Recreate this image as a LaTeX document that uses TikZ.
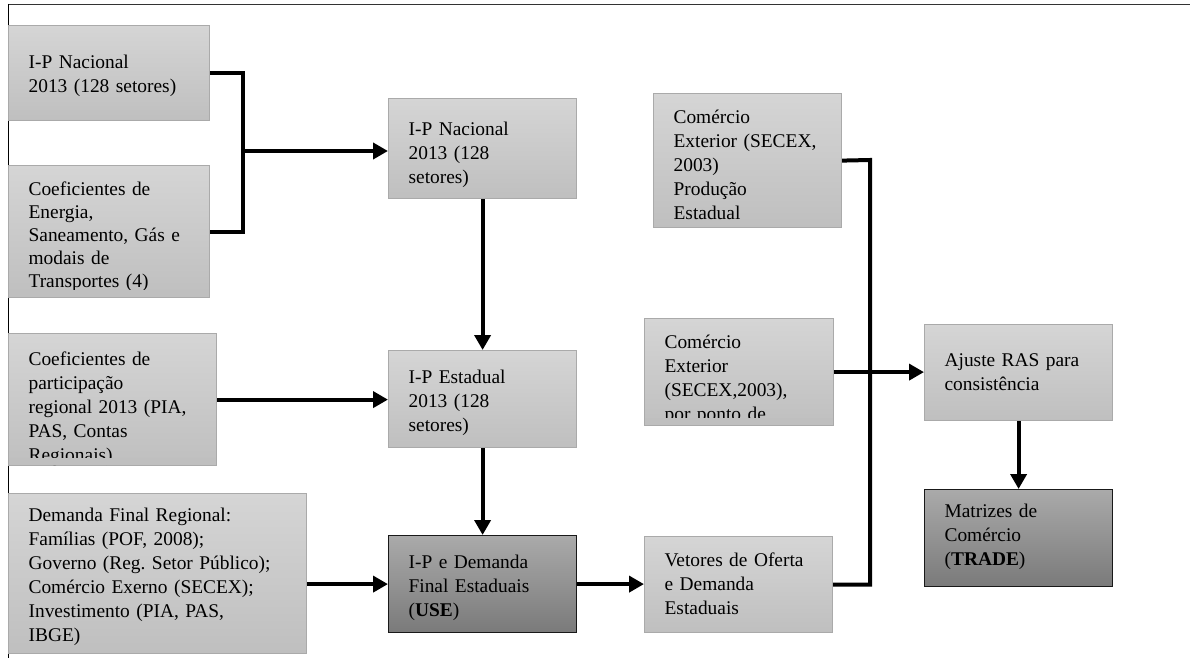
\documentclass[tikz,border=0pt]{standalone}
\usepackage{fontspec}
\setmainfont{Liberation Serif}
\usetikzlibrary{arrows.meta}
\definecolor{boxtop}{RGB}{213,213,213}
\definecolor{boxbot}{RGB}{191,191,191}
\definecolor{boxedge}{RGB}{170,170,170}
\definecolor{darktop}{RGB}{170,170,170}
\definecolor{darkbot}{RGB}{122,122,122}
\definecolor{darkedge}{RGB}{25,25,25}
\tikzset{
  dims/.style args={#1/#2/#3}{text width=#1, text height=#2, text depth=#3},
  box/.style={anchor=north west, inner xsep=10pt, inner ysep=0pt, align=left,
    font=\fontsize{9.7}{12}\selectfont\frenchspacing, line width=0.6pt},
  light/.style={box, draw=boxedge, top color=boxtop, bottom color=boxbot},
  dark/.style={box, draw=darkedge, top color=darktop, bottom color=darkbot},
  link/.style={line width=2pt},
  arr/.style={link, -{Triangle[length=7.5pt,width=8pt]}},
}
\begin{document}
\begin{tikzpicture}[x=0.5pt, y=-0.5pt]
  \useasboundingbox (0,0) rectangle (1190,658);
  % page frame
  \draw[line width=0.7pt, black!80] (8,4.5) -- (1190,4.5);
  \draw[line width=0.5pt] (8,4) -- (8,658);

  % inputs
  \node[light, dims=80.5pt/21.5pt/26pt] (natl) at (8,25) {I-P Nacional\\2013 (128 setores)};
  \node[light, dims=80.5pt/15pt/51pt, font=\fontsize{9.7}{11.5}\selectfont] (coef) at (8,165) {Coeficientes de\\Energia,\\Saneamento, Gás e\\modais de\\Transportes (4)};
  \node[light, dims=84pt/16pt/50pt] (part) at (8,333) {Coeficientes de\\participação\\regional 2013 (PIA,\\PAS, Contas\\Regionais)};
  \node[light, dims=129pt/14pt/66pt] (dem) at (8,493) {Demanda Final Regional:\\Famílias (POF, 2008);\\Governo (Reg. Setor Público);\\Comércio Exerno (SECEX);\\Investimento (PIA, PAS,\\IBGE)};

  % middle column
  \node[light, dims=74pt/18.5pt/31.5pt] (natl2) at (388,98) {I-P Nacional\\2013 (128\\setores)};
  \node[light, dims=74pt/16.5pt/32pt] (est) at (388,350) {I-P Estadual\\2013 (128\\setores)};
  \node[dark, dims=74pt/16.5pt/32pt] (use) at (388,535) {I-P e Demanda\\Final Estaduais\\(\textbf{USE})};

  % trade column
  \node[light, dims=74pt/15pt/33pt] (vet) at (644,536) {Vetores de Oferta\\e Demanda\\Estaduais};
  \node[light, dims=74pt/15pt/52pt] (com1) at (653,93) {Comércio\\Exterior (SECEX,\\2003)\\Produção\\Estadual};
  \node[light, dims=74.5pt/15pt/38.5pt] (com2) at (644,318) {Comércio\\Exterior\\(SECEX,2003),\\por ponto de};
  \node[light, dims=74pt/21pt/27pt] (ras) at (924,324) {Ajuste RAS para\\consistência};
  \node[dark, dims=74pt/14pt/34.5pt] (mat) at (924,489) {Matrizes de\\Comércio\\(\textbf{TRADE})};

  % text that runs past the box is cut off
  \foreach \b in {coef, part, com2}
    \fill[boxbot] ([shift={(0.4pt,0.4pt)}]\b.south west) rectangle ([shift={(-0.4pt,4pt)}]\b.south east);

  % connectors
  \coordinate (j1) at (243,151);
  \draw[link] (natl.east) -| (j1) |- (coef.east);
  \draw[arr] (j1) -- (j1 -| natl2.west);
  \draw[arr] (natl2.south) -- (est.north);
  \draw[arr] (part.east) -- (part.east -| est.west);
  \draw[arr] (est.south) -- (use.north);
  \draw[arr] (dem.east |- use.west) -- (use.west);
  \draw[arr] (use.east) -- (use.east -| vet.west);
  \coordinate (bus) at (870,160);
  \draw[link] (vet.east) -| (bus) -- (com1.east);
  \draw[arr] (com2.east) -- (com2.east -| ras.west);
  \draw[arr] (ras.south) -- (mat.north);
\end{tikzpicture}
\end{document}
